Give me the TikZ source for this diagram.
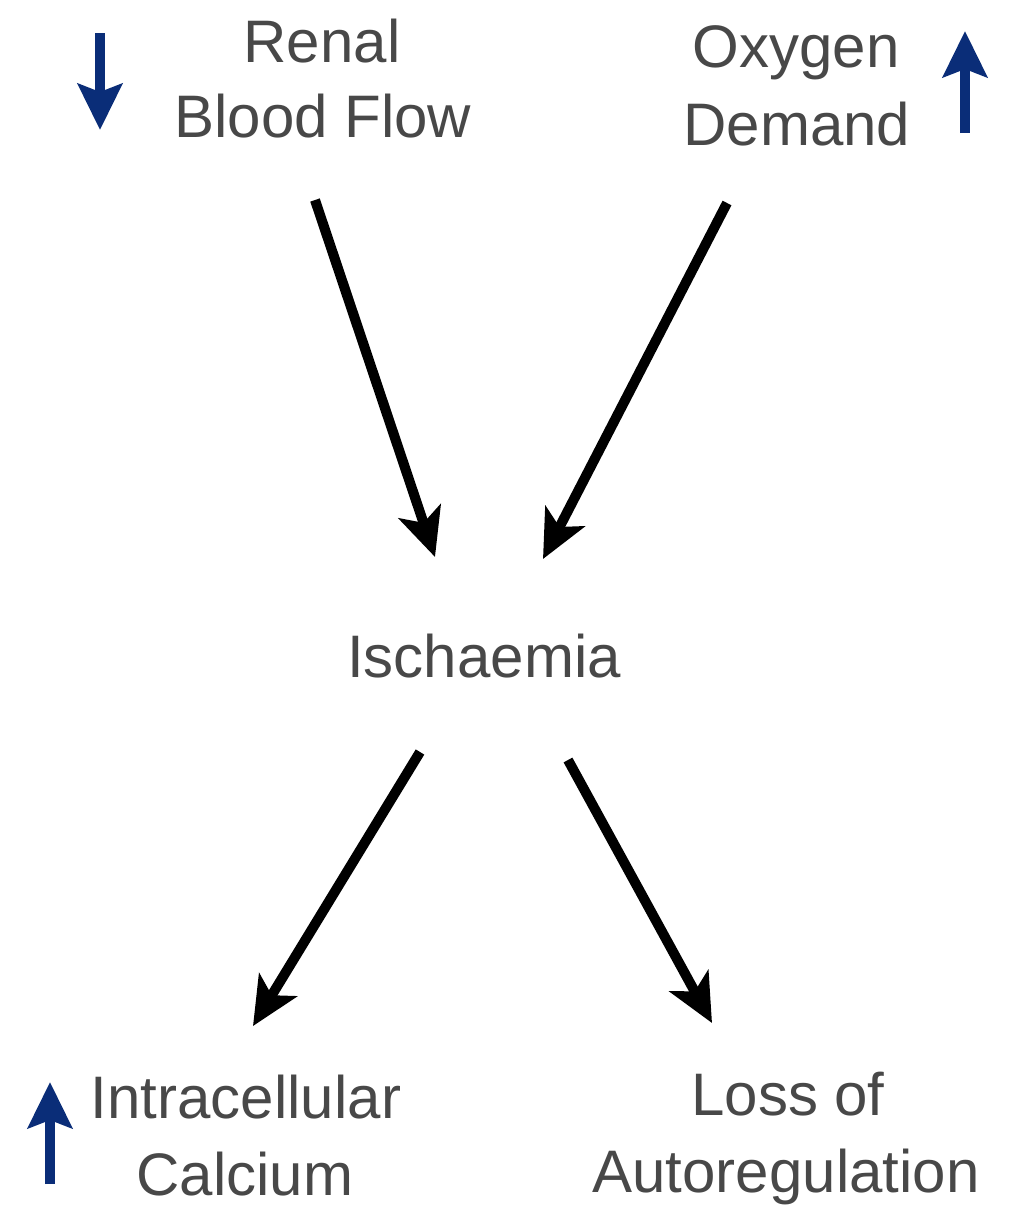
\documentclass[tikz,border=0pt]{standalone}
\usepackage{fontspec}
\setmainfont{Liberation Sans}
\usetikzlibrary{arrows.meta}
\definecolor{txtgray}{RGB}{72,72,72}
\definecolor{navy}{RGB}{10,45,120}
\begin{document}
\begin{tikzpicture}[x=0.5pt,y=-0.5pt,
  lbl/.style={anchor=base,inner sep=0pt,text=txtgray,font=\fontsize{30}{36}\selectfont},
  flow/.style={line width=5pt,-{Stealth[length=24pt,width=22pt,inset=6pt]}},
  updown/.style={line width=5pt,navy,-{Stealth[length=23pt,width=22pt,inset=4pt]}}]
\useasboundingbox (0,0) rectangle (1017,1206);
% labels
\node[lbl] (renal1) at (322,62) {Renal};
\node[lbl] (renal2) at (323,137) {Blood Flow};
\node[lbl] (oxy1) at (796,67) {Oxygen};
\node[lbl] (oxy2) at (797,145) {Demand};
\node[lbl] (isch) at (484,677) {Ischaemia};
\node[lbl] (calc1) at (246,1118) {Intracellular};
\node[lbl] (calc2) at (245,1195) {Calcium};
\node[lbl] (loss1) at (788,1115) {Loss of};
\node[lbl] (loss2) at (786,1192) {Autoregulation};
% connector ends
\coordinate (a1s) at (315,200); \coordinate (a1e) at (435,557);
\coordinate (a2s) at (727,203); \coordinate (a2e) at (543,559);
\coordinate (a3s) at (420,752); \coordinate (a3e) at (253,1026);
\coordinate (a4s) at (568,760); \coordinate (a4e) at (712,1023);
\draw[flow] (a1s) -- (a1e);
\draw[flow] (a2s) -- (a2e);
\draw[flow] (a3s) -- (a3e);
\draw[flow] (a4s) -- (a4e);
% blue indicator arrows
\coordinate (b1s) at (100,33); \coordinate (b1e) at (100,130);
\coordinate (b2s) at (965,133); \coordinate (b2e) at (965,31);
\coordinate (b3s) at (50,1184); \coordinate (b3e) at (50,1082);
\draw[updown] (b1s) -- (b1e);
\draw[updown] (b2s) -- (b2e);
\draw[updown] (b3s) -- (b3e);
\end{tikzpicture}
\end{document}
